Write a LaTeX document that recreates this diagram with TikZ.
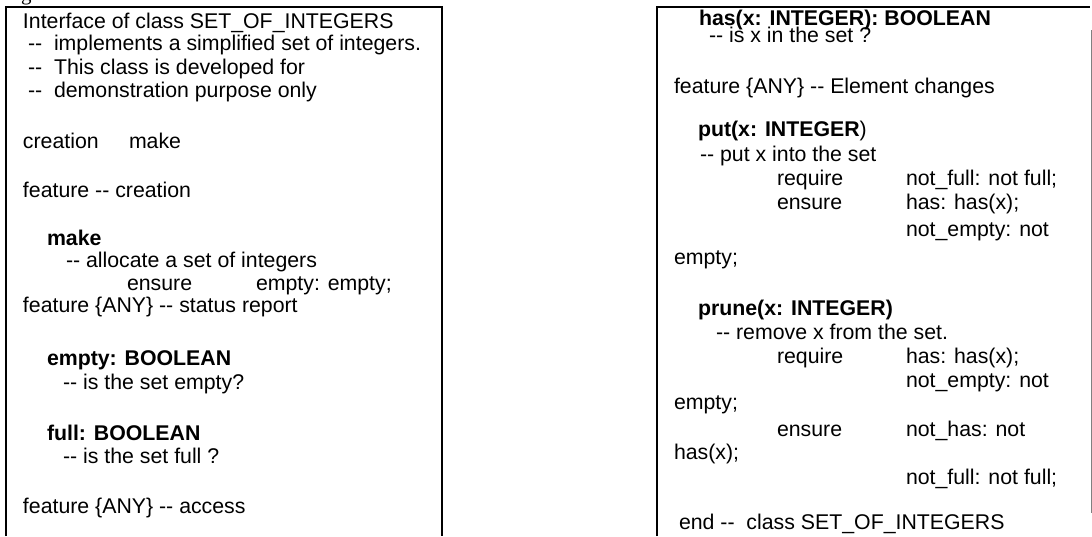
\documentclass[tikz,border=0pt]{standalone}
\usepackage{fontspec}
\setmainfont{Liberation Sans}[Ligatures=TeXOff]
\newfontfamily\seriffont{Liberation Serif}
\begin{document}
\begin{tikzpicture}[x=1pt,y=-1pt,
  t/.style={anchor=base west,inner sep=0pt,outer sep=0pt,font=\fontsize{21.3}{24}\selectfont},
  b/.style={t,font=\fontsize{21.3}{24}\selectfont\bfseries},
  frame/.style={line width=1.6pt,black,line join=miter},
  thinedge/.style={line width=0.8pt,gray}]
\useasboundingbox (0,0) rectangle (1092,536);
% frames
\draw[frame] (6,536) -- (6,7) -- (442,7) -- (442,536);
\draw[frame] (657,536) -- (657,7) -- (1090,7);
\draw[thinedge] (1091,30) -- (1091,513);
% cut-off caption fragment
\node[t,font=\seriffont\fontsize{21}{24}\selectfont] (gfrag) at (21,0) {g};
% left box
\node[t] (l1) at (23,28) {Interface of class SET\_OF\_INTEGERS};
\node[t] (l2) at (28,50) {-- \ implements a simplified set of integers.};
\node[t] (l3) at (28,74) {-- \ This class is developed for};
\node[t] (l4) at (28,97) {-- \ demonstration purpose only};
\node[t] (l5a) at (23,148) {creation};
\node[t] (l5b) at (129,148) {make};
\node[t] (l6) at (23,197) {feature -- creation};
\node[b] (l7) at (47,245) {make};
\node[t] (l8) at (66,267) {-- allocate a set of integers};
\node[t] (l9a) at (127,290) {ensure};
\node[t] (l9b) at (256,290) {empty: empty;};
\node[t] (l10) at (23,312) {feature \{ANY\} -- status report};
\node[b] (l11) at (47,365) {empty: BOOLEAN};
\node[t] (l12) at (63,389) {-- is the set empty?};
\node[b] (l13) at (47,440) {full: BOOLEAN};
\node[t] (l14) at (63,463) {-- is the set full ?};
\node[t] (l15) at (23,513) {feature \{ANY\} -- access};
% right box
\node[b] (r1) at (699,25) {has(x: INTEGER): BOOLEAN};
\node[t] (r2) at (709,42) {-- is x in the set ?};
\node[t] (r3) at (674,93) {feature \{ANY\} -- Element changes};
\node[t] (r4) at (698,136) {{\bfseries put(x: INTEGER})};
\node[t] (r5) at (700,161) {-- put x into the set};
\node[t] (r6a) at (777,185) {require};
\node[t] (r6b) at (906,185) {not\_full: not full;};
\node[t] (r7a) at (777,209) {ensure};
\node[t] (r7b) at (906,209) {has: has(x);};
\node[t] (r8) at (906,236) {not\_empty: not};
\node[t] (r9) at (674,264) {empty;};
\node[b] (r10) at (698,315) {prune(x: INTEGER)};
\node[t] (r11) at (716,339) {-- remove x from the set.};
\node[t] (r12a) at (777,363) {require};
\node[t] (r12b) at (906,363) {has: has(x);};
\node[t] (r13) at (906,387) {not\_empty: not};
\node[t] (r14) at (674,409) {empty;};
\node[t] (r15a) at (777,436) {ensure};
\node[t] (r15b) at (906,436) {not\_has: not};
\node[t] (r16) at (674,459) {has(x);};
\node[t] (r17) at (906,484) {not\_full: not full;};
\node[t] (r18) at (679,529) {end -- \ class SET\_OF\_INTEGERS};
\end{tikzpicture}
\end{document}
